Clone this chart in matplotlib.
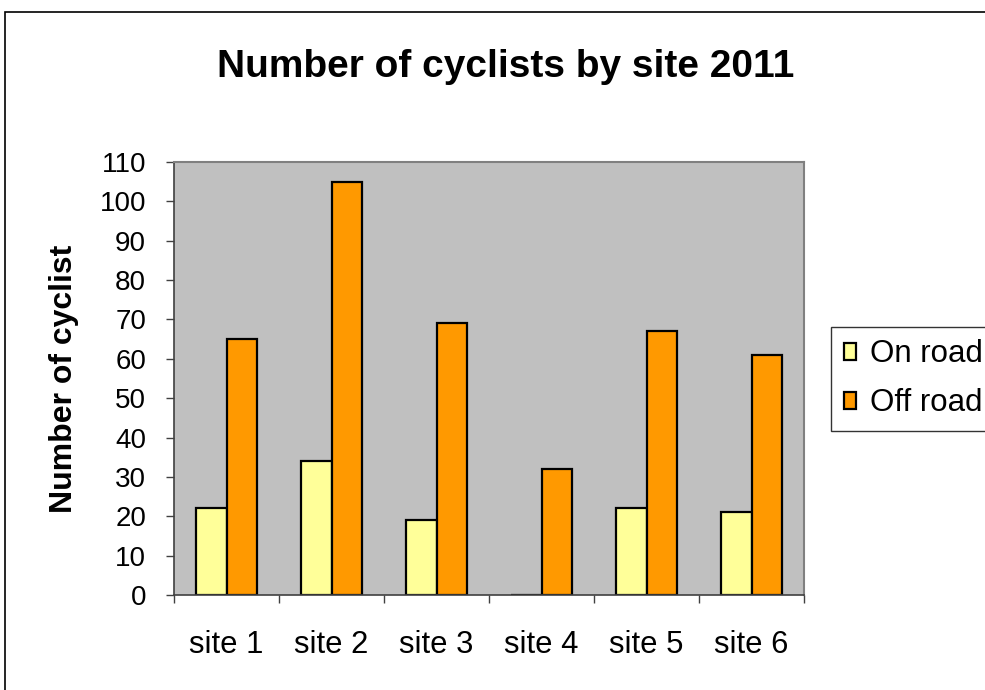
import matplotlib
matplotlib.use("Agg")
import matplotlib.pyplot as plt
import numpy as np
from matplotlib.patches import Rectangle

categories = ["site 1", "site 2", "site 3", "site 4", "site 5", "site 6"]
on_road = [22, 34, 19, 0, 22, 21]
off_road = [65, 105, 69, 32, 67, 61]
yticks = list(range(0, 111, 10))

plt.rcParams['font.family'] = ['Liberation Sans', 'DejaVu Sans']

W, H = 985, 690
fig = plt.figure(figsize=(W/100, H/100), dpi=100)

# outer chart border
fig.patches.append(Rectangle((5/W, -0.1), 1.2, (H-12)/H + 0.1, transform=fig.transFigure,
                             fill=False, edgecolor='black', linewidth=1.2))

L, R, T, B = 174, 804, 162, 595
ax = fig.add_axes([L/W, 1-B/H, (R-L)/W, (B-T)/H])
ax.set_facecolor('#C0C0C0')

x = np.arange(len(categories))
bw = 0.295
ax.bar(x - bw/2, on_road, width=bw, color='#FFFF99', edgecolor='black', linewidth=1.6, label='On road')
ax.bar(x + bw/2, off_road, width=bw, color='#FF9900', edgecolor='black', linewidth=1.6, label='Off road')

ax.set_xlim(-0.5, len(categories) - 0.5)
ax.set_ylim(0, 110)
ax.set_yticks(yticks)
ax.set_yticklabels([str(v) for v in yticks], fontsize=20)
ax.set_xticks(x)
ax.set_xticklabels(categories, fontsize=22.3)
ax.tick_params(axis='x', which='major', length=0, pad=25)
ax.set_xticks(np.arange(-0.5, len(categories)), minor=True)
ax.tick_params(axis='x', which='minor', length=6, width=1, color='#404040', direction='out')
ax.tick_params(axis='y', length=6, width=1, color='#404040', direction='out', pad=14)

for s in ['top', 'right']:
    ax.spines[s].set_color('#808080')
    ax.spines[s].set_linewidth(1.5)
for s in ['left', 'bottom']:
    ax.spines[s].set_color('#404040')
    ax.spines[s].set_linewidth(1.2)

fig.text(64/W, 1-378.5/H, 'Number of cyclist', fontsize=23, fontweight='bold',
         rotation=90, ha='center', va='center')

fig.text(505.5/W, 1-77/H, 'Number of cyclists by site 2011', fontsize=28, fontweight='bold',
         ha='center', va='baseline')

leg = fig.legend(loc='upper left', bbox_to_anchor=(831/W, 1-327/H), fontsize=22.5,
                 frameon=True, fancybox=False, edgecolor='black', handlelength=0.4,
                 handleheight=0.45, handletextpad=0.45, borderpad=0.4, labelspacing=0.6,
                 borderaxespad=0)
leg.get_frame().set_linewidth(1.0)

fig.savefig('out.png', dpi=100, facecolor='white')
